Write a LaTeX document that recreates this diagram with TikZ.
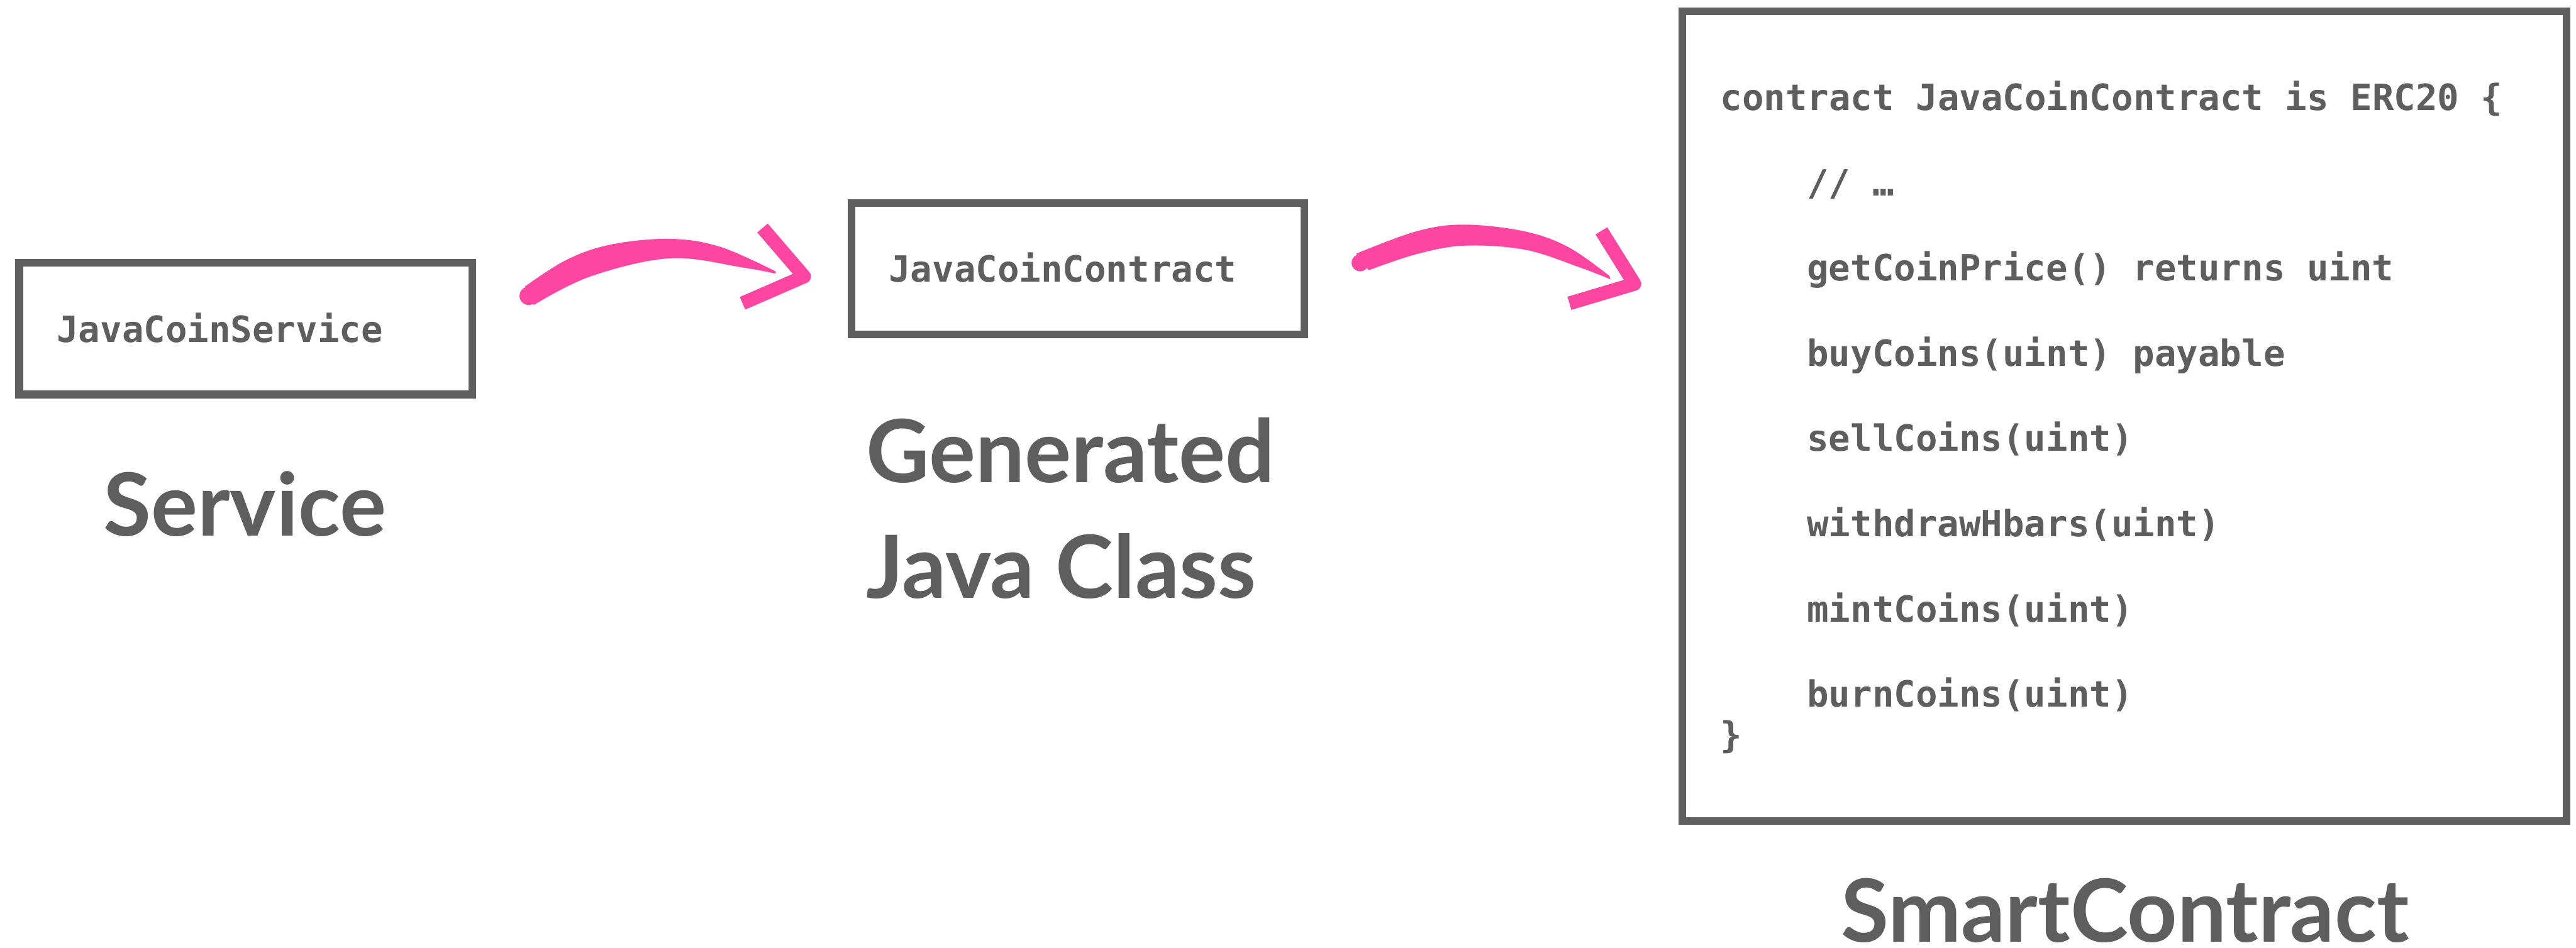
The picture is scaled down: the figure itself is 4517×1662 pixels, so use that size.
\documentclass[tikz,border=0pt]{standalone}
\usepackage{fontspec}
\newfontfamily\codefont{DejaVu Sans Mono}
\newfontfamily\labelfont{Lato}
\definecolor{ink}{HTML}{5E5E5E}
\definecolor{brush}{HTML}{FF45A2}
\tikzset{
  box/.style={draw=ink, line width=0.135cm, inner sep=0pt, fill=white},
  code/.style={font=\codefont\bfseries\fontsize{18}{22}\selectfont, text=ink, inner sep=0pt, anchor=base west},
  caption/.style={font=\labelfont\bfseries\fontsize{43.5}{52}\selectfont, text=ink, inner sep=0pt},
  brushbody/.style={fill=brush},
  brushhead/.style={draw=brush, line width=0.24cm, line join=round, line cap=butt},
}
\begin{document}
\begin{tikzpicture}[x=0.01cm, y=-0.01cm]
\useasboundingbox (0,0) rectangle (4517,1662);

% --- boxes ---
\node[box, minimum width=7.94cm, minimum height=2.31cm] (svc) at (431,576.5) {};
\node[box, minimum width=7.94cm, minimum height=2.31cm] (gen) at (1890,471.5) {};
\node[box, minimum width=15.5cm, minimum height=14.2cm] (sc) at (3725,730) {};

% --- box contents ---
\node[code] (svctxt) at (99,600) {JavaCoinService};
\node[code] (gentxt) at (1558,495) {JavaCoinContract};

\node[code] (l0) at (3016,193)  {contract JavaCoinContract is ERC20 \{};
\node[code] (l1) at (3168,343)  {// …};
\node[code] (l2) at (3168,492)  {getCoinPrice() returns uint};
\node[code] (l3) at (3168,642)  {buyCoins(uint) payable};
\node[code] (l4) at (3168,791)  {sellCoins(uint)};
\node[code] (l5) at (3168,941)  {withdrawHbars(uint)};
\node[code] (l6) at (3168,1091) {mintCoins(uint)};
\node[code] (l7) at (3168,1240) {burnCoins(uint)};
\node[code] (l8) at (3016,1312) {\}};

% --- captions ---
\node[caption, anchor=base] (svccap) at (429,940) {Service};
\node[caption, anchor=base west] (gencap1) at (1518,846) {Generated};
\node[caption, anchor=base west] (gencap2) at (1518,1049) {Java Class};
\node[caption, anchor=base] (sccap) at (3726,1652) {SmartContract};

% --- brush arrow: Service -> Generated Java Class ---
\coordinate (a1tail) at (927,519);
\coordinate (a1tip) at (1410,485);
\fill[brushbody] plot[smooth, tension=0.6] coordinates {(920,503) (993,456) (1071,429) (1175,419) (1263,433) (1360,476)}
  -- plot[smooth, tension=0.6] coordinates {(1360,480) (1301,469) (1175,453) (1035,485) (936,535)} -- cycle;
\fill[brushbody] (a1tail) circle[radius=16];
\draw[brushhead] (1337,400) -- (a1tip) -- (1302,532);

% --- brush arrow: Generated Java Class -> SmartContract ---
\coordinate (a2tail) at (2385,461);
\coordinate (a2tip) at (2866,498);
\fill[brushbody] plot[smooth, tension=0.6] coordinates {(2378,445) (2483,406) (2567,394) (2674,406) (2751,434) (2822,484)}
  -- plot[smooth, tension=0.6] coordinates {(2824,490) (2770,469) (2674,438) (2567,431) (2483,446) (2400,474)} -- cycle;
\fill[brushbody] (a2tail) circle[radius=15];
\draw[brushhead] (2808,405) -- (a2tip) -- (2752,532);
\end{tikzpicture}
\end{document}
